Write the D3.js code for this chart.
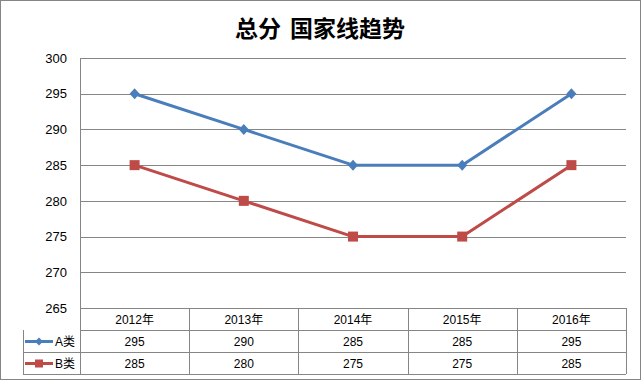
<!DOCTYPE html>
<html><head><meta charset="utf-8">
<script src="https://cdn.jsdelivr.net/npm/d3@7"></script>
<style>
body{margin:0;background:#fff;}
text{font-family:"Liberation Sans","Noto Sans CJK SC",sans-serif;}
</style></head>
<body><svg id="c" width="641" height="381"></svg>
<script>
const title = "总分 国家线趋势";
const categories = ["2012年","2013年","2014年","2015年","2016年"];
const seriesNames = ["A类","B类"];
const seriesA = [295,290,285,285,295];
const seriesB = [285,280,275,275,285];
const yTicks = [265,270,275,280,285,290,295,300];
const colors = ["#4A7EBB","#BE4B48"];

const svg = d3.select("#c");
const L=80, R=626, T=58, B=308, rowH=22, legL=23;
const gridColor="#868686";

svg.append("rect").attr("x",0.5).attr("y",0.5).attr("width",640).attr("height",379)
  .attr("fill","#fff").attr("stroke",gridColor).attr("stroke-width",1);

svg.append("text").attr("x",320).attr("y",37).attr("text-anchor","middle")
  .style("font-family","'Noto Sans CJK SC',sans-serif").style("font-weight","bold")
  .style("font-size","23px").style("word-spacing","4px").attr("xml:space","preserve").text(title);

const x = d3.scaleBand().domain(categories).range([L,R]);
const y = d3.scaleLinear().domain([265,300]).range([B,T]);

const diamond = (hw,hh)=>`M0,${-hh}L${hw},0L0,${hh}L${-hw},0Z`;

// gridlines + labels
const ax = svg.append("g").attr("transform",`translate(${L},0)`)
  .call(d3.axisLeft(y).tickValues(yTicks).tickSize(-(R-L)).tickPadding(13).tickFormat(d3.format("d")));
ax.select(".domain").remove();
ax.selectAll(".tick line").attr("stroke",gridColor).attr("stroke-width",1).attr("shape-rendering","crispEdges");
ax.selectAll(".tick text").style("font-size","13px").attr("fill","#000")
  .style("font-family","'Liberation Sans',sans-serif");

// left axis line
svg.append("line").attr("x1",L+0.5).attr("x2",L+0.5).attr("y1",T).attr("y2",B+3*rowH)
  .attr("stroke",gridColor);

// table
const tg = svg.append("g").attr("stroke",gridColor).attr("shape-rendering","crispEdges");
for(let i=1;i<=3;i++){
  tg.append("line").attr("x1",i===1?L:legL).attr("x2",R).attr("y1",B+i*rowH+0.5).attr("y2",B+i*rowH+0.5);
}
tg.append("line").attr("x1",legL+0.5).attr("x2",legL+0.5).attr("y1",B+rowH).attr("y2",B+3*rowH);
categories.forEach(c=>{
  const xe = x(c)+x.bandwidth();
  tg.append("line").attr("x1",Math.round(xe)+0.5).attr("x2",Math.round(xe)+0.5).attr("y1",B).attr("y2",B+3*rowH);
});
svg.selectAll(".hdr").data(categories).enter().append("text")
  .attr("x",d=>x(d)+x.bandwidth()/2).attr("y",B+rowH/2+5).attr("text-anchor","middle")
  .style("font-size","12px").text(d=>d);

const allSeries=[seriesA,seriesB];
allSeries.forEach((s,si)=>{
  const ry = B+(si+1)*rowH+rowH/2;
  svg.selectAll(".v"+si).data(s).enter().append("text")
    .attr("x",(d,i)=>x(categories[i])+x.bandwidth()/2).attr("y",ry+5).attr("text-anchor","middle")
    .style("font-size","12px").text(d=>d);
  // legend
  svg.append("line").attr("x1",25).attr("x2",53).attr("y1",ry+0.5).attr("y2",ry+0.5)
    .attr("stroke",colors[si]).attr("stroke-width",3);
  if(si===0){
    svg.append("path").attr("d",diamond(4,4))
      .attr("transform",`translate(39,${ry+0.5})`).attr("fill",colors[si]);
  } else {
    svg.append("rect").attr("x",35).attr("y",ry-3.5).attr("width",8).attr("height",8).attr("fill",colors[si]);
  }
  svg.append("text").attr("x",55).attr("y",ry+5).style("font-size","12px").text(seriesNames[si]);
});

// lines
const line = d3.line().x((d,i)=>x(categories[i])+x.bandwidth()/2).y(d=>y(d));
allSeries.forEach((s,si)=>{
  svg.append("path").datum(s).attr("d",line).attr("fill","none")
    .attr("stroke",colors[si]).attr("stroke-width",3).attr("stroke-linejoin","round");
  if(si===0){
    svg.selectAll(".mA").data(s).enter().append("path")
      .attr("d",diamond(5,5.5))
      .attr("transform",(d,i)=>`translate(${x(categories[i])+x.bandwidth()/2},${y(d)})`)
      .attr("fill",colors[si]);
  } else {
    svg.selectAll(".mB").data(s).enter().append("rect")
      .attr("x",(d,i)=>x(categories[i])+x.bandwidth()/2-5).attr("y",d=>y(d)-5)
      .attr("width",10).attr("height",10).attr("fill",colors[si]);
  }
});
</script></body></html>
